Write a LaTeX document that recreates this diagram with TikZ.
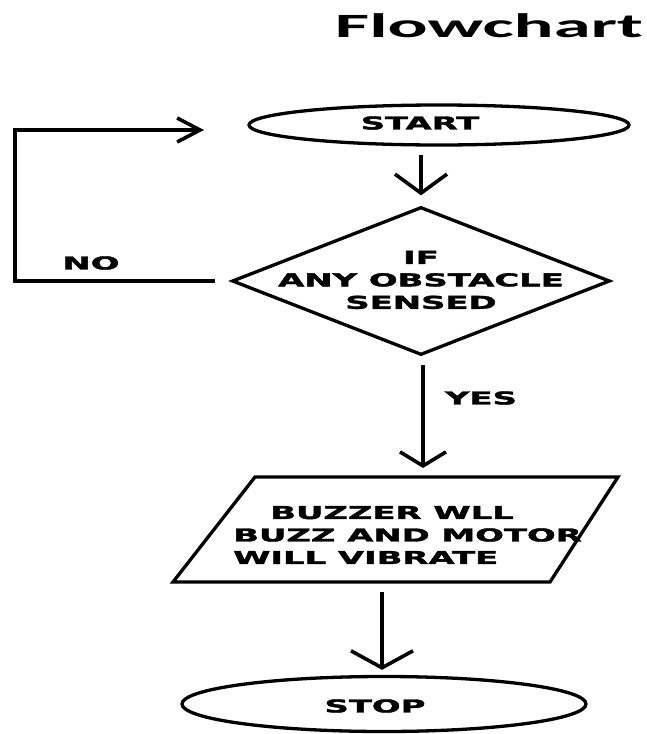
\documentclass[tikz,border=0pt]{standalone}
\usepackage{graphicx}
\usepackage{fontspec}
\setmainfont{DejaVu Sans}[BoldFeatures={FakeBold=1.6}]
\newfontfamily\titlefont{Carlito}
\usetikzlibrary{shapes.geometric,arrows.meta}
\newcommand{\W}[1]{\scalebox{1.9}[1]{#1}}
\begin{document}
\begin{tikzpicture}[x=1pt,y=-1pt,
  lbl/.style={font=\fontsize{17.8}{22.5}\selectfont\bfseries, inner sep=0pt},
  shp/.style={draw, line width=3.3pt, inner sep=0pt, line join=miter},
  ln/.style={line width=3.6pt},
]
\fill[white] (0,0) rectangle (647,734);
\useasboundingbox (0,0) rectangle (647,734);

% title
\node[anchor=base, inner sep=0pt] (title) at (489,37)
  {\resizebox{308pt}{\height}{\titlefont\fontsize{34}{40}\selectfont\bfseries Flowchart}};

% start
\node[shp, ellipse, minimum width=380pt, minimum height=40pt] (start) at (439,125) {};
\node[lbl] (starttxt) at (420,123) {\W{START}};

% decision
\node[shp, diamond, minimum width=378pt, minimum height=148pt] (dia) at (421,281) {};
\node[lbl, align=center] (diatxt) at (421,280) {\W{IF}\\\W{ANY OBSTACLE}\\\W{SENSED}};

% input/output parallelogram
\coordinate (p1) at (255,477);
\coordinate (p2) at (618,477);
\coordinate (p3) at (550,582);
\coordinate (p4) at (173,582);
\coordinate (iotop) at (423,477);
\coordinate (iobot) at (382,582);
\draw[shp] (p1) -- (p2) -- (p3) -- (p4) -- cycle;
\node[lbl, align=left, anchor=west] (iotxt) at (233,535)
  {\hspace*{37pt}\W{BUZZER WLL}\\\W{BUZZ AND MOTOR}\\\W{WILL VIBRATE}};

% stop
\node[shp, ellipse, minimum width=404pt, minimum height=55pt] (stop) at (384,704) {};
\node[lbl] (stoptxt) at (375,706) {\W{STOP}};

% labels
\node[lbl] (no) at (91,263) {\W{NO}};
\node[lbl] (yes) at (481,398) {\W{YES}};

% connectors
\draw[ln, -{Straight Barb[length=19pt,width=52pt]}]
  ([yshift=-8pt]dia.north |- start.south) -- ([yshift=10pt]dia.north);
\draw[ln, -{Straight Barb[length=14pt,width=46pt]}]
  ([yshift=-8pt]iotop |- dia.south) -- ([yshift=9pt]iotop);
\draw[ln, -{Straight Barb[length=17pt,width=62pt]}]
  ([yshift=-10pt]iobot) -- ([yshift=5pt]stop.north -| iobot);

% NO loop
\coordinate (lx) at (15,130);
\coordinate (looptip) at (204,130);
\draw[ln, line join=miter, -{Straight Barb[length=23pt,width=24pt]}]
  ([xshift=-15pt]dia.west) -- (dia.west -| lx) -- (lx) -- (looptip);
\end{tikzpicture}
\end{document}
